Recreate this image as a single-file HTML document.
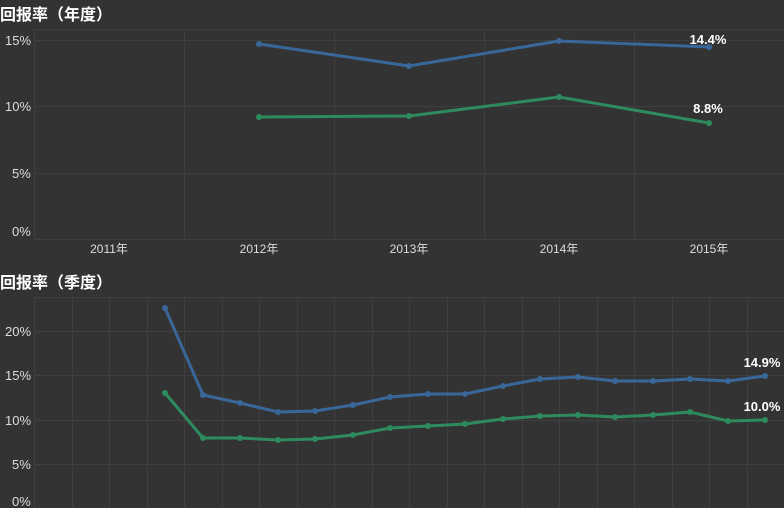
<!DOCTYPE html>
<html><head><meta charset="utf-8"><style>
body{margin:0;background:#333;}
svg{display:block;font-family:"Liberation Sans","Noto Sans CJK SC",sans-serif;}
</style></head><body>
<svg width="784" height="508" viewBox="0 0 784 508">
<rect width="784" height="508" fill="#333"/>
<text x="0" y="20" fill="#fff" font-size="16" font-weight="bold">回报率（年度）</text>
<g stroke="#3f3f3f" stroke-width="1">
<line x1="34" y1="29.5" x2="784" y2="29.5"/>
<line x1="34" y1="40.5" x2="784" y2="40.5"/>
<line x1="34" y1="106.5" x2="784" y2="106.5"/>
<line x1="34" y1="173.5" x2="784" y2="173.5"/>
<line x1="34" y1="239.5" x2="784" y2="239.5"/>
<line x1="34.5" y1="29" x2="34.5" y2="240"/>
<line x1="184.5" y1="29" x2="184.5" y2="240"/>
<line x1="334.5" y1="29" x2="334.5" y2="240"/>
<line x1="484.5" y1="29" x2="484.5" y2="240"/>
<line x1="634.5" y1="29" x2="634.5" y2="240"/>
</g>
<g fill="#ddd" font-size="13">
<text x="5" y="45">15%</text><text x="5" y="111">10%</text><text x="12" y="178">5%</text><text x="12" y="236">0%</text>
</g>
<g fill="#ddd" font-size="12" text-anchor="middle">
<text x="109" y="253">2011年</text><text x="259" y="253">2012年</text><text x="409" y="253">2013年</text><text x="559" y="253">2014年</text><text x="709" y="253">2015年</text>
</g>
<polyline points="259,44 409,66 559,41 709,47" fill="none" stroke="#3a6799" stroke-width="3"/>
<polyline points="259,117 409,116 559,97 709,123" fill="none" stroke="#2e8b5e" stroke-width="3"/>
<g fill="#3a6799"><circle cx="259" cy="44" r="3"/><circle cx="409" cy="66" r="3"/><circle cx="559" cy="41" r="3"/><circle cx="709" cy="47" r="3"/></g>
<g fill="#2e8b5e"><circle cx="259" cy="117" r="3"/><circle cx="409" cy="116" r="3"/><circle cx="559" cy="97" r="3"/><circle cx="709" cy="123" r="3"/></g>
<g fill="#fff" font-size="13" font-weight="bold" text-anchor="middle">
<text x="708" y="44">14.4%</text><text x="708" y="113">8.8%</text>
</g>

<text x="0" y="288" fill="#fff" font-size="16" font-weight="bold">回报率（季度）</text>
<g stroke="#3f3f3f" stroke-width="1">
<line x1="34" y1="297.5" x2="784" y2="297.5"/>
<line x1="34" y1="331.5" x2="784" y2="331.5"/>
<line x1="34" y1="375.5" x2="784" y2="375.5"/>
<line x1="34" y1="420.5" x2="784" y2="420.5"/>
<line x1="34" y1="464.5" x2="784" y2="464.5"/>
</g>
<g stroke="#3f3f3f" stroke-width="1" id="vg"></g>
<g fill="#ddd" font-size="13">
<text x="5" y="336">20%</text><text x="5" y="380">15%</text><text x="5" y="425">10%</text><text x="12" y="469">5%</text><text x="12" y="506">0%</text>
</g>
<polyline points="165,308 203,395 240,403 278,412 315,411 353,405 390,397 428,394 465,394 503,386 540,379 578,377 615,381 653,381 690,379 728,381 765,376" fill="none" stroke="#3a6799" stroke-width="3"/>
<polyline points="165,393 203,438 240,438 278,440 315,439 353,435 390,428 428,426 465,424 503,419 540,416 578,415 615,417 653,415 690,412 728,421 765,420" fill="none" stroke="#2e8b5e" stroke-width="3"/>
<g id="dots"></g>
<g fill="#fff" font-size="13" font-weight="bold" text-anchor="middle">
<text x="762" y="367">14.9%</text><text x="762" y="411">10.0%</text>
</g>
</svg>
<script>
var ns="http://www.w3.org/2000/svg",vg=document.getElementById("vg");
for(var k=0;k<20;k++){var x=Math.round(34+37.5*k)+.5,l=document.createElementNS(ns,"line");
l.setAttribute("x1",x);l.setAttribute("x2",x);l.setAttribute("y1",297);l.setAttribute("y2",508);vg.appendChild(l);}
var d=document.getElementById("dots");
document.querySelectorAll("polyline").forEach(function(p,i){if(i<2)return;
p.getAttribute("points").split(" ").forEach(function(s){var c=s.split(","),e=document.createElementNS(ns,"circle");
e.setAttribute("cx",c[0]);e.setAttribute("cy",c[1]);e.setAttribute("r",3);e.setAttribute("fill",p.getAttribute("stroke"));d.appendChild(e);});});
</script>
</body></html>
